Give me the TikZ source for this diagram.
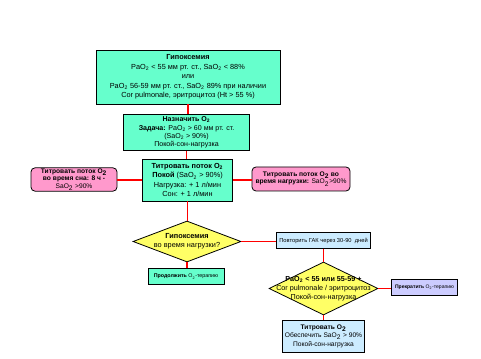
\documentclass[tikz,border=0pt]{standalone}
\usepackage{fontspec}
\setmainfont{Liberation Sans}
\usepackage{tikz}
\usetikzlibrary{positioning, shapes.geometric}
\definecolor{mint}{RGB}{102,255,204}
\definecolor{rose}{RGB}{255,153,204}
\definecolor{lemon}{RGB}{255,255,102}
\definecolor{sky}{RGB}{204,236,255}
\definecolor{lilac}{RGB}{204,204,255}
\newcommand{\Otwo}{O\textsubscript{2}}

\begin{document}
\begin{tikzpicture}[
  x=0.75pt, y=-0.75pt,
  box/.style={rectangle, draw=black, line width=0.6pt, inner sep=0pt,
              align=center, font=\fontsize{5.5}{7.2}\selectfont},
  smallbox/.style={box, font=\fontsize{4.3}{5.6}\selectfont},
  pinkbox/.style={box, fill=rose, rounded corners=3pt, font=\fontsize{5}{5.6}\selectfont},
  decision/.style={diamond, draw=black, line width=0.6pt, fill=lemon, inner sep=0pt},
  link/.style={red, line width=1.3pt}
]
\useasboundingbox (0,0) rectangle (481,359);

\node[box, fill=mint, minimum width=138pt, minimum height=40.5pt] (hypox) at (188,77)
  {\textbf{Гипоксемия}\\PaO\textsubscript{2} < 55 мм рт. ст., SaO\textsubscript{2} < 88\%\\или\\PaO\textsubscript{2} 56-59 мм рт. ст., SaO\textsubscript{2} 89\% при наличии\\Cor pulmonale, эритроцитоз (Ht > 55 \%)};
\node[box, fill=mint, minimum width=94pt, minimum height=26.5pt,
      font=\fontsize{5.3}{6.3}\selectfont] (start) at (186.5,132.5)
  {\textbf{Назначить \Otwo}\\\textbf{Задача:} PaO\textsubscript{2} > 60 мм рт. ст.\\(SaO\textsubscript{2} > 90\%)\\Покой-сон-нагрузка};
\node[box, fill=mint, minimum width=67pt, minimum height=31.5pt] (titr) at (187.5,180)
  {\textbf{Титровать поток \Otwo}\\\textbf{Покой} (SaO\textsubscript{2} > 90\%)\\Нагрузка: + 1 л/мин\\Сон: + 1 л/мин};
\node[pinkbox, minimum width=64.5pt, minimum height=17.5pt] (sleep) at (74,179.5)
  {\textbf{Титровать поток \Otwo}\\\textbf{во время сна: 8 ч -}\\SaO\textsubscript{2} >90\%};
\node[pinkbox, minimum width=73.5pt, minimum height=18pt] (load) at (301,179)
  {\textbf{Титровать поток \Otwo{} во}\\\textbf{время нагрузки:} SaO\textsubscript{2}>90\%};

\node[decision, minimum width=81pt, minimum height=30.75pt] (ask) at (187,241.5) {};
\node[box, draw=none, font=\fontsize{5.5}{7}\selectfont] (asktxt) at (ask)
  {\textbf{Гипоксемия}\\во время нагрузки?};
\node[smallbox, fill=sky, minimum width=70pt, minimum height=11.5pt] (repeat) at (323.5,240.5)
  {Повторить ГАК через 30-90 \ дней};
\node[smallbox, fill=mint, minimum width=57pt, minimum height=12.5pt,
      font=\fontsize{4}{5}\selectfont] (cont) at (186,276.5)
  {\textbf{Продолжить} \Otwo-терапию};
\node[decision, minimum width=81.75pt, minimum height=39.75pt] (check) at (323.5,288.5) {};
\node[box, draw=none, font=\fontsize{5.4}{6.8}\selectfont] (checktxt) at (check)
  {\textbf{PaO\textsubscript{2} < 55 или 55-59 +}\\Cor pulmonale / эритроцитоз\\Покой-сон-нагрузка};
\node[smallbox, fill=lilac, minimum width=50pt, minimum height=11.5pt,
      font=\fontsize{3.8}{5}\selectfont] (stop) at (424.5,287.5)
  {\textbf{Прекратить} \Otwo-терапию};
\node[smallbox, fill=sky, minimum width=61pt, minimum height=24pt,
      font=\fontsize{5}{6.4}\selectfont] (keep) at (323.5,336)
  {\textbf{Титровать \Otwo}\\Обеспечить SaO\textsubscript{2} > 90\%\\Покой-сон-нагрузка};

\draw[link] (hypox.south) -- (hypox.south |- start.north);
\draw[link] (start.south) -- (start.south |- titr.north);
\draw[link] (titr.west) -- (titr.west -| sleep.east);
\draw[link] (titr.east) -- (titr.east -| load.west);
\draw[link] (titr.south) -- (titr.south |- ask.north);
\draw[link] (ask.south) -- (ask.south |- cont.north);
\draw[link] (ask.east) -- (ask.east -| repeat.west);
\draw[link] (repeat.south) -- (repeat.south |- check.north);
\draw[link] (check.east) -- (check.east -| stop.west);
\draw[link] (check.south) -- (check.south |- keep.north);
\end{tikzpicture}
\end{document}
